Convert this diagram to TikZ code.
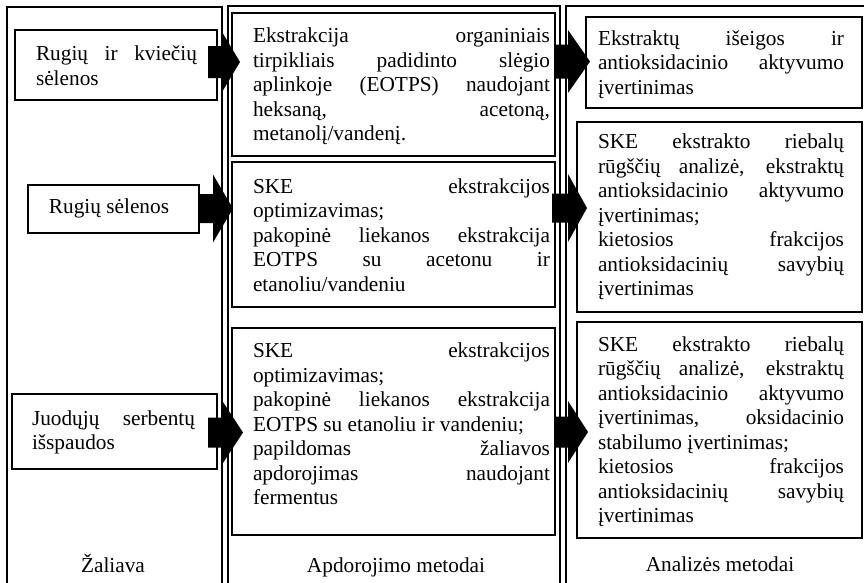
\documentclass[tikz,border=0pt]{standalone}
\usepackage{fontspec}
\setmainfont{Liberation Serif}
\usetikzlibrary{calc}
% justified line of a given width, and a last (natural) line
\newcommand\jl[2]{\hbox to #1{\strut\spaceskip=0.25em plus 1fil\relax #2}}
\newcommand\lastln[1]{\hbox{\strut #1}}
% block arrow: start point, shaft length, head length, shaft half height, head half height
\newcommand\barrow[5]{\fill[black] #1 ++(0,-#4) -- ++(#2,0) -- ++(0,#4-#5) -- ++(#3,#5) -- ++(-#3,#5) -- ++(0,#4-#5) -- ++(-#2,0) -- cycle;}
\begin{document}
\begin{tikzpicture}[x=1pt,y=-1pt,
  font=\fontsize{21.3}{24.5}\selectfont,
  frame/.style={draw=black, line width=1.2pt},
  box/.style={draw=black, line width=2pt, inner sep=0pt, outer sep=0pt},
  txt/.style={inner sep=0pt, outer sep=0pt, anchor=west},
  lbl/.style={inner sep=0pt, anchor=base}]
\useasboundingbox (0,0) rectangle (864,582);
\fill[white] (0,0) rectangle (864,582);
% column frames
\draw[frame] (7,584) -- (7,7) -- (222,7) -- (222,584);
\draw[frame] (228,584) -- (228,6) -- (560,6) -- (560,584);
\draw[frame] (566,584) -- (566,6) -- (866,6);
% column 1 boxes
\node[box, minimum width=202pt, minimum height=70pt] (r1) at (116,65) {};
\node[txt] (r1t) at (36,68) {\vbox{\jl{161pt}{Rugių ir kviečių}\lastln{sėlenos}}};
\node[box, minimum width=171pt, minimum height=48pt] (r2) at (113.5,209) {};
\node[inner sep=0pt] (r2t) at (109,208.5) {\strut Rugių sėlenos};
\node[box, minimum width=205pt, minimum height=75pt] (r3) at (114.5,431.5) {};
\node[txt] (r3t) at (32,432.5) {\vbox{\jl{163pt}{Juodųjų serbentų}\lastln{išspaudos}}};
% column 2 boxes
\node[box, minimum width=323pt, minimum height=143pt] (m1) at (393.5,84.5) {};
\node[txt] (m1t) at (253,87) {\vbox{\jl{297pt}{Ekstrakcija organiniais}\jl{297pt}{tirpikliais padidinto slėgio}\jl{297pt}{aplinkoje (EOTPS) naudojant}\jl{297pt}{heksaną, acetoną,}\lastln{metanolį/vandenį.}}};
\node[box, minimum width=323pt, minimum height=145pt] (m2) at (393.5,234.5) {};
\node[txt] (m2t) at (253,237.5) {\vbox{\jl{297pt}{SKE ekstrakcijos}\lastln{optimizavimas;}\jl{297pt}{pakopinė liekanos ekstrakcija}\jl{297pt}{EOTPS su acetonu ir}\lastln{etanoliu/vandeniu}}};
\node[box, minimum width=323pt, minimum height=207pt] (m3) at (393.5,431.5) {};
\node[txt] (m3t) at (253,426.5) {\vbox{\jl{297pt}{SKE ekstrakcijos}\lastln{optimizavimas;}\jl{297pt}{pakopinė liekanos ekstrakcija}\lastln{EOTPS su etanoliu ir vandeniu;}\jl{297pt}{papildomas žaliavos}\jl{297pt}{apdorojimas naudojant}\lastln{fermentus}}};
% column 3 boxes
\node[box, minimum width=276pt, minimum height=91pt] (a1) at (724,62.5) {};
\node[txt] (a1t) at (598,65) {\vbox{\jl{246pt}{Ekstraktų išeigos ir}\jl{246pt}{antioksidacinio aktyvumo}\lastln{įvertinimas}}};
\node[box, minimum width=285pt, minimum height=190pt] (a2) at (719.5,217) {};
\node[txt] (a2t) at (598,217.5) {\vbox{\jl{246pt}{SKE ekstrakto riebalų}\jl{246pt}{rūgščių analizė, ekstraktų}\jl{246pt}{antioksidacinio aktyvumo}\lastln{įvertinimas;}\jl{246pt}{kietosios frakcijos}\jl{246pt}{antioksidacinių savybių}\lastln{įvertinimas}}};
\node[box, minimum width=285pt, minimum height=216pt] (a3) at (719.5,430) {};
\node[txt] (a3t) at (598,432) {\vbox{\jl{246pt}{SKE ekstrakto riebalų}\jl{246pt}{rūgščių analizė, ekstraktų}\jl{246pt}{antioksidacinio aktyvumo}\jl{246pt}{įvertinimas, oksidacinio}\lastln{stabilumo įvertinimas;}\jl{246pt}{kietosios frakcijos}\jl{246pt}{antioksidacinių savybių}\lastln{įvertinimas}}};
% column labels
\node[lbl] (l1) at (113,572) {Žaliava};
\node[lbl] (l2) at (396,572) {Apdorojimo metodai};
\node[lbl] (l3) at (720,571) {Analizės metodai};
% block arrows
\barrow{($(r1.east)+(-9,-3)$)}{14}{18}{16}{30}
\barrow{($(r2.east)+(0,-0.5)$)}{14}{20}{14.5}{34}
\barrow{($(r3.east)+(-9,1)$)}{14}{21}{15}{32}
\barrow{($(m1.east)+(0,-23)$)}{13}{22}{17}{31.5}
\barrow{($(m2.east)+(-3,-26.5)$)}{16}{19}{14.5}{34}
\barrow{($(m3.east)+(0,0.5)$)}{13}{20}{15.5}{31}
\end{tikzpicture}
\end{document}
